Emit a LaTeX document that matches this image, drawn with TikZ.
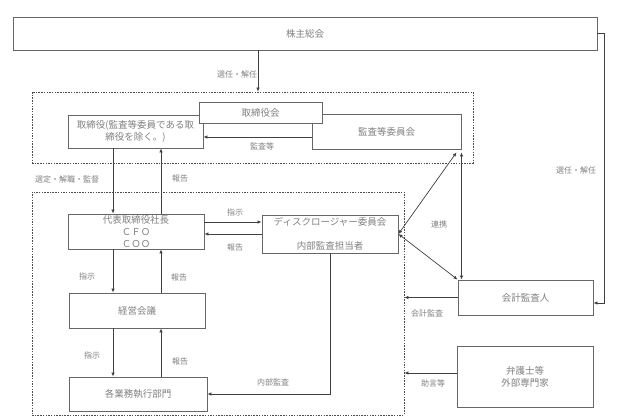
\documentclass[tikz,border=0pt]{standalone}
\usepackage{fontspec}
\setmainfont{Noto Sans CJK JP}
\usepackage{tikz}
\usetikzlibrary{arrows.meta,positioning,calc}
\tikzset{
	box/.style={draw=black!60,line width=0.9pt,fill=white,text=black!50,inner sep=0pt,align=center,font=\fontsize{9.5}{12}\selectfont},
	dashbox/.style={draw=black!70,line width=0.8pt,dash pattern=on 1.5pt off 1.2pt},
	lbl/.style={text=black!50,inner sep=0pt,font=\fontsize{8}{10}\selectfont},
	conn/.style={draw=black!75,line width=0.7pt}
}
\begin{document}
\begin{tikzpicture}[x=1pt,y=-1pt,>={Latex[length=4pt,width=3.5pt]}]
\useasboundingbox (0,0) rectangle (638,419);
% groups
\node[dashbox,minimum width=441,minimum height=71] (board) at (252.5,127.5) {};
\node[dashbox,minimum width=372,minimum height=223] (mgmt) at (218,303.5) {};
% boxes
\node[box,minimum width=584,minimum height=33] (soukai) at (305,33.5) {株主総会};
\node[box,minimum width=149,minimum height=35] (kansa) at (386.5,131.5) {監査等委員会};
\node[box,minimum width=135,minimum height=33] (tori) at (135.5,131.5) {取締役(監査等委員である取\\締役を除く。)};
\node[box,minimum width=123,minimum height=21] (kai) at (260.5,112.5) {取締役会};
\node[box,minimum width=136,minimum height=35] (daihyo) at (136,231.5) {代表取締役社長\\ＣＦＯ\\ＣＯＯ};
\node[box,minimum width=136,minimum height=38] (disc) at (330,234) {ディスクロージャー委員会\\[12pt]内部監査担当者};
\node[box,minimum width=136,minimum height=35] (keiei) at (137,310.5) {経営会議};
\node[box,minimum width=138,minimum height=34] (gyomu) at (138,394) {各業務執行部門};
\node[box,minimum width=135,minimum height=35] (kaikei) at (525.5,297.5) {会計監査人};
\node[box,minimum width=136,minimum height=61] (bengo) at (525,376.5) {弁護士等\\外部専門家};
% columns and rows of the connectors
\coordinate (c0) at (258,0);
\coordinate (dn) at (113,0);
\coordinate (up) at (161,0);
\coordinate (r0) at (0,137);
\coordinate (r1) at (0,222);
\coordinate (r2) at (0,234);
\coordinate (r6) at (0,373);
% connectors
\draw[conn,->] (c0 |- soukai.south) -- (c0 |- board.north);
\draw[conn,->] (soukai.east) -- ++(7,0) |- ([yshift=-5.5]kaikei.east);
\draw[conn,->] (kansa.west |- r0) -- (tori.east |- r0);
\draw[conn,->] (dn |- tori.south) -- (dn |- daihyo.north);
\draw[conn,->] (up |- daihyo.north) -- (up |- tori.south);
\draw[conn,->] (daihyo.east |- r1) -- (disc.west |- r1);
\draw[conn,->] (disc.west |- r2) -- (daihyo.east |- r2);
\draw[conn,->] (dn |- daihyo.south) -- (dn |- keiei.north);
\draw[conn,->] (up |- keiei.north) -- (up |- daihyo.south);
\draw[conn,->] (dn |- keiei.south) -- (dn |- gyomu.north);
\draw[conn,->] (up |- gyomu.north) -- (up |- keiei.south);
\draw[conn,->] (disc.south) |- (gyomu.east);
\draw[conn,<->] (disc.east) -- ([xshift=-5,yshift=-3]kansa.south east);
\draw[conn,<->] (disc.east) -- (kaikei.north west);
\draw[conn,<->] ([yshift=-3]kansa.south east) -- (kansa.south east |- kaikei.north);
\draw[conn,->] (kaikei.west) -- (kaikei.west -| mgmt.east);
\draw[conn,->] (bengo.west |- r6) -- (mgmt.east |- r6);
% labels
\node[lbl] (l-sennin) at (237,74) {選任・解任};
\node[lbl] (l-sennin2) at (576,170) {選任・解任};
\node[lbl] (l-kansa) at (262,146) {監査等};
\node[lbl] (l-sentei) at (67,179) {選定・解職・監督};
\node[lbl] (l-hok1) at (180,179) {報告};
\node[lbl] (l-shiji1) at (235,212) {指示};
\node[lbl] (l-hok2) at (235,247) {報告};
\node[lbl] (l-shiji2) at (87,276) {指示};
\node[lbl] (l-hok3) at (179,277) {報告};
\node[lbl] (l-shiji3) at (92,355) {指示};
\node[lbl] (l-hok4) at (180,361) {報告};
\node[lbl] (l-naibu) at (273,382) {内部監査};
\node[lbl] (l-renkei) at (439,224) {連携};
\node[lbl] (l-kaikei) at (427,313) {会計監査};
\node[lbl] (l-jogen) at (433,383) {助言等};
\end{tikzpicture}
\end{document}
